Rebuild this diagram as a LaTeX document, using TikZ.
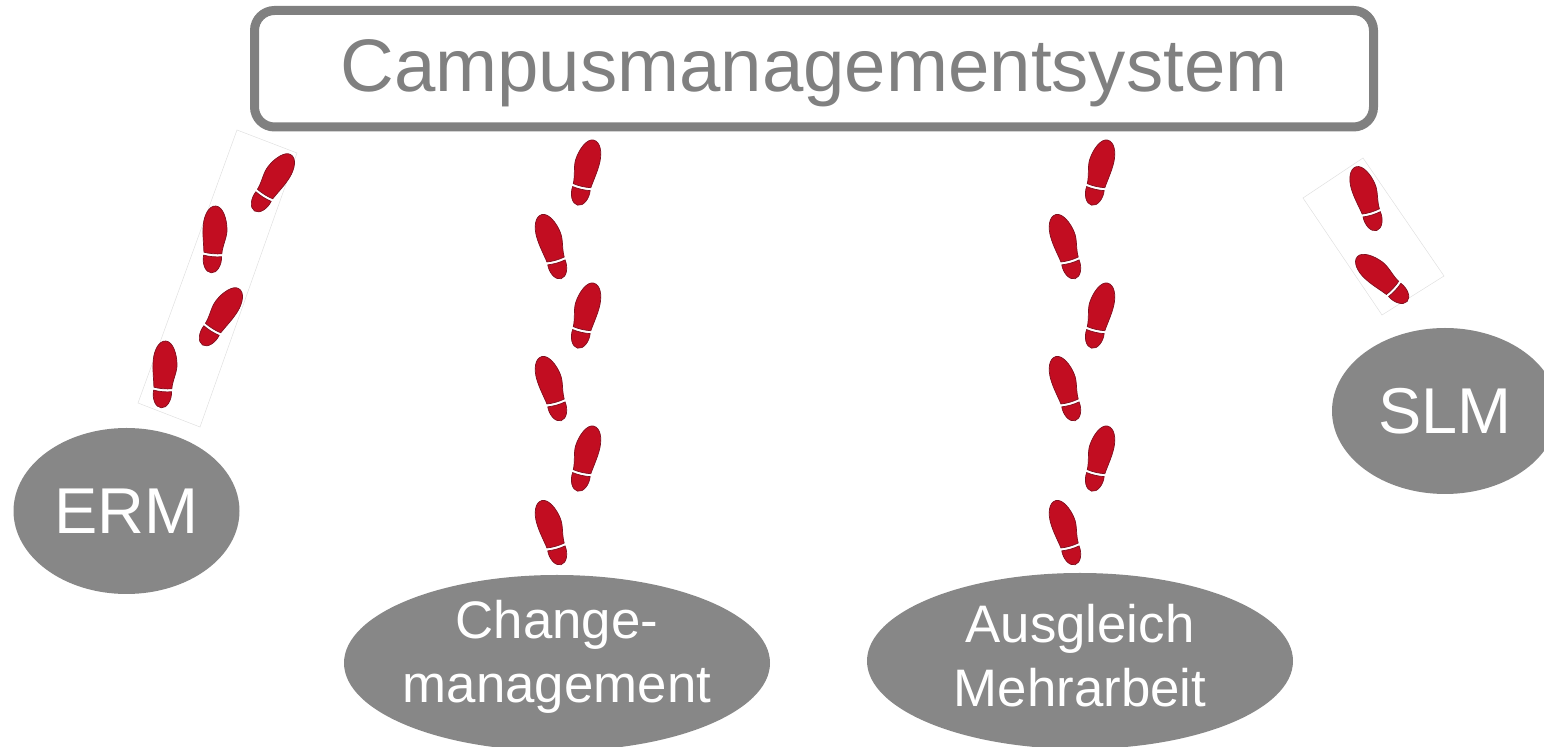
\documentclass[tikz,border=0pt]{standalone}
\usepackage{fontspec}
\setmainfont{Liberation Sans}
\usetikzlibrary{shapes.geometric}
\newlength{\du}
\setlength{\du}{0.5pt}
\definecolor{dialinecolor}{rgb}{0.500000, 0.500000, 0.500000}
\definecolor{diafillcolor}{rgb}{0.530000, 0.530000, 0.530000}
\definecolor{shoecolor}{rgb}{0.760000, 0.050000, 0.130000}
\definecolor{shoeedge}{rgb}{0.500000, 0.060000, 0.120000}
\definecolor{framecolor}{rgb}{0.880000, 0.880000, 0.880000}
\tikzset{
  titlebox/.style={draw=dialinecolor,line width=9\du,rounded corners=20\du,fill=white,text=dialinecolor,
    minimum width=1119\du,minimum height=116.5\du,inner sep=0pt,text height=29.2pt,text depth=6pt,
    font=\fontsize{37.2pt}{40pt}\selectfont},
  topicbig/.style={ellipse,fill=diafillcolor,text=white,inner sep=0pt,
    minimum width=226\du,minimum height=166\du,font=\fontsize{32.4pt}{36pt}\selectfont},
  topicwide/.style={ellipse,fill=diafillcolor,text=white,inner xsep=-4pt,inner ysep=0pt,align=center,
    minimum width=426\du,minimum height=176\du,text depth=6pt,font=\fontsize{26.4pt}{32pt}\selectfont},
  imageframe/.style={draw=framecolor,line width=0.5\du},
  shoeprint/.pic={
    \fill[shoecolor,draw=shoeedge,line width=0.7\du]
      (1\du,34\du) .. controls (8\du,34\du) and (12\du,24\du) .. (12\du,14\du)
      .. controls (12\du,4\du) and (10\du,-4\du) .. (9\du,-13\du)
      .. controls (4\du,-14\du) and (-4\du,-14\du) .. (-9\du,-13\du)
      .. controls (-9\du,-4\du) and (-13\du,4\du) .. (-12\du,12\du)
      .. controls (-11\du,22\du) and (-6\du,34\du) .. (1\du,34\du) -- cycle;
    \fill[shoecolor,draw=shoeedge,line width=0.7\du]
      (-9\du,-16\du) .. controls (-4\du,-17\du) and (4\du,-17\du) .. (9\du,-16\du)
      .. controls (10\du,-24\du) and (6\du,-33\du) .. (0\du,-33\du)
      .. controls (-6\du,-33\du) and (-10\du,-24\du) .. (-9\du,-16\du) -- cycle;
  }
}
\begin{document}
\begin{tikzpicture}[even odd rule]
\pgftransformyscale{-1.000000}
\useasboundingbox (0\du,0\du) rectangle (1544\du,747\du);
% faint edges of the turned pictures
\draw[imageframe] (237\du,130\du)--(297\du,153\du)--(200\du,427\du)--(138\du,403\du)--cycle;
\draw[imageframe] (1363\du,158\du)--(1303\du,198\du)--(1382\du,315\du)--(1444\du,276\du)--cycle;
% box
\node[titlebox] (campus) at (814\du,68.75\du){Campusmanagementsystem};
% ovals
\node[topicbig] (erm) at (126.5\du,511\du){ERM};
\node[topicbig] (slm) at (1445\du,411\du){SLM};
\node[topicwide,text height=46pt] (change) at (557\du,663\du){Change-\\management};
\node[topicwide,text height=52pt] (ausgleich) at (1080\du,661\du){Ausgleich\\Mehrarbeit};
% steps to the left
\pic[rotate=-32] at (272\du,183\du){shoeprint};
\pic[rotate=-5,xscale=-1] at (214\du,240\du){shoeprint};
\pic[rotate=-32] at (220\du,317\du){shoeprint};
\pic[rotate=-5,xscale=-1] at (164\du,375\du){shoeprint};
% steps in the middle
\pic[rotate=-13] at (585\du,173\du){shoeprint};
\pic[rotate=16,xscale=-1] at (552\du,247\du){shoeprint};
\pic[rotate=-13] at (585\du,316\du){shoeprint};
\pic[rotate=16,xscale=-1] at (552\du,389\du){shoeprint};
\pic[rotate=-13] at (585\du,459\du){shoeprint};
\pic[rotate=16,xscale=-1] at (552\du,533\du){shoeprint};
% steps on the right
\pic[rotate=-13] at (1099\du,173\du){shoeprint};
\pic[rotate=16,xscale=-1] at (1066\du,247\du){shoeprint};
\pic[rotate=-13] at (1099\du,316\du){shoeprint};
\pic[rotate=16,xscale=-1] at (1066\du,389\du){shoeprint};
\pic[rotate=-13] at (1099\du,459\du){shoeprint};
\pic[rotate=16,xscale=-1] at (1066\du,533\du){shoeprint};
% steps at the far right
\pic[rotate=17,xscale=-1] at (1367\du,199\du){shoeprint};
\pic[rotate=47,xscale=-1] at (1383\du,279\du){shoeprint};
\end{tikzpicture}
\end{document}
